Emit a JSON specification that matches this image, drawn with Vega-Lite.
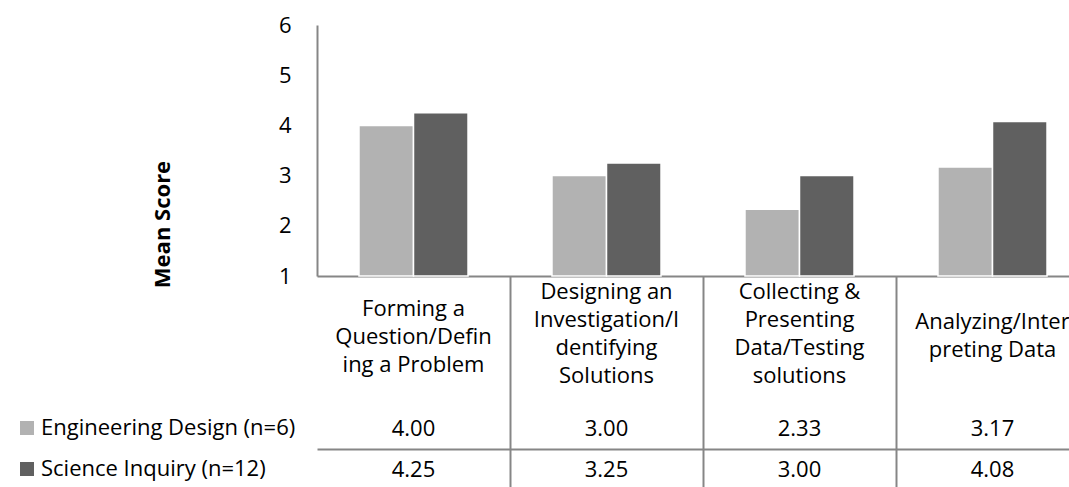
{
  "$schema": "https://vega.github.io/schema/vega-lite/v6.json",
  "width": 1069,
  "height": 487,
  "autosize": {"type": "none"},
  "padding": 0,
  "background": "white",
  "config": {
    "view": {"stroke": null},
    "font": "Open Sans",
    "axis": {"labelFont": "Open Sans", "titleFont": "Open Sans"},
    "legend": {"labelFont": "Open Sans"}
  },
  "data": {
    "values": [
      {"category": "Forming a Question/Defining a Problem", "series": "Engineering Design (n=6)", "value": 4.00},
      {"category": "Designing an Investigation/Identifying Solutions", "series": "Engineering Design (n=6)", "value": 3.00},
      {"category": "Collecting & Presenting Data/Testing solutions", "series": "Engineering Design (n=6)", "value": 2.33},
      {"category": "Analyzing/Interpreting Data", "series": "Engineering Design (n=6)", "value": 3.17},
      {"category": "Forming a Question/Defining a Problem", "series": "Science Inquiry (n=12)", "value": 4.25},
      {"category": "Designing an Investigation/Identifying Solutions", "series": "Science Inquiry (n=12)", "value": 3.25},
      {"category": "Collecting & Presenting Data/Testing solutions", "series": "Science Inquiry (n=12)", "value": 3.00},
      {"category": "Analyzing/Interpreting Data", "series": "Science Inquiry (n=12)", "value": 4.08}
    ]
  },
  "layer": [
    {
      "mark": {"type": "bar", "stroke": "white", "strokeWidth": 1.5},
      "encoding": {
        "x": {
          "field": "category",
          "type": "nominal",
          "sort": ["Forming a Question/Defining a Problem", "Designing an Investigation/Identifying Solutions", "Collecting & Presenting Data/Testing solutions", "Analyzing/Interpreting Data"],
          "scale": {"range": [317, 1089], "paddingInner": 0, "paddingOuter": 0},
          "axis": {
            "orient": "bottom",
            "offset": -211,
            "title": null,
            "domainColor": "#868686",
            "domainWidth": 2,
            "bandPosition": 0,
            "ticks": true,
            "tickSize": 211,
            "tickWidth": 2,
            "tickColor": {"condition": {"test": "datum.value === 'Forming a Question/Defining a Problem'", "value": "transparent"}, "value": "#868686"},
            "labelPadding": {"condition": [
              {"test": "datum.value === 'Forming a Question/Defining a Problem'", "value": -179},
              {"test": "datum.value === 'Analyzing/Interpreting Data'", "value": -166}
            ], "value": -196},
            "labelBaseline": "middle",
            "labelLineHeight": 28,
            "labelFontSize": 22,
            "labelColor": "black",
            "labelAngle": 0,
            "labelLimit": 400,
            "grid": false,
            "labelExpr": "datum.value === 'Forming a Question/Defining a Problem' ? ['Forming a', 'Question/Defin', 'ing a Problem'] : datum.value === 'Designing an Investigation/Identifying Solutions' ? ['Designing an', 'Investigation/I', 'dentifying', 'Solutions'] : datum.value === 'Collecting & Presenting Data/Testing solutions' ? ['Collecting &', 'Presenting', 'Data/Testing', 'solutions'] : ['Analyzing/Inter', 'preting Data']"
          }
        },
        "xOffset": {
          "field": "series",
          "type": "nominal",
          "sort": ["Engineering Design (n=6)", "Science Inquiry (n=12)"],
          "scale": {"paddingInner": 0, "paddingOuter": 0.77}
        },
        "y": {
          "field": "value",
          "type": "quantitative",
          "scale": {"domain": [1, 6], "range": [276, 25], "zero": false, "nice": false},
          "axis": {
            "orient": "left",
            "offset": -317,
            "values": [1, 2, 3, 4, 5, 6],
            "title": "Mean Score",
            "titleFontSize": 22,
            "titleFontWeight": "bold",
            "titleColor": "black",
            "titleAngle": -90,
            "titleAlign": "center",
            "titleBaseline": "middle",
            "titleX": -155,
            "titleY": 224,
            "ticks": false,
            "labelPadding": 26,
            "labelFontSize": 22,
            "labelColor": "black",
            "domainColor": "#868686",
            "domainWidth": 2,
            "grid": false
          }
        },
        "y2": {"datum": 1},
        "color": {
          "field": "series",
          "type": "nominal",
          "sort": ["Engineering Design (n=6)", "Science Inquiry (n=12)"],
          "scale": {"domain": ["Engineering Design (n=6)", "Science Inquiry (n=12)"], "range": ["#b2b2b2", "#606060"]},
          "legend": {
            "orient": "none",
            "legendX": 16,
            "legendY": 417,
            "title": null,
            "direction": "vertical",
            "symbolType": "square",
            "symbolSize": 196,
            "symbolStrokeWidth": 0,
            "labelFontSize": 22,
            "labelColor": "black",
            "labelOffset": 3,
            "rowPadding": 19,
            "labelLimit": 400
          }
        }
      }
    },
    {
      "mark": {"type": "text", "fontSize": 22, "color": "black", "font": "Open Sans"},
      "encoding": {
        "x": {
          "field": "category",
          "type": "nominal",
          "sort": ["Forming a Question/Defining a Problem", "Designing an Investigation/Identifying Solutions", "Collecting & Presenting Data/Testing solutions", "Analyzing/Interpreting Data"]
        },
        "y": {
          "field": "series",
          "type": "nominal",
          "sort": ["Engineering Design (n=6)", "Science Inquiry (n=12)"],
          "scale": {"range": [408, 490], "paddingInner": 0, "paddingOuter": 0},
          "axis": {
            "orient": "left",
            "offset": -10,
            "title": null,
            "labels": false,
            "ticks": false,
            "domain": false,
            "grid": true,
            "tickOffset": 20.5,
            "gridColor": "#868686",
            "gridWidth": 2,
            "gridOpacity": {"condition": {"test": "datum.value === 'Science Inquiry (n=12)'", "value": 0}, "value": 1}
          }
        },
        "text": {"field": "value", "type": "quantitative", "format": ".2f"}
      }
    }
  ],
  "resolve": {"scale": {"y": "independent"}, "axis": {"y": "independent"}}
}
